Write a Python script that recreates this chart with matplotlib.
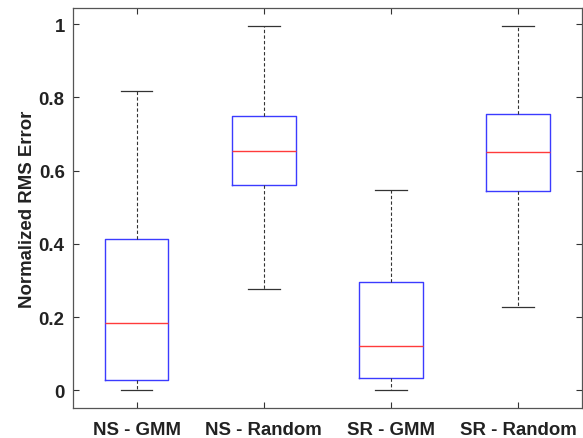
#!/usr/bin/env python3
# Boxplot: normalized RMS error per method (MATLAB-style look)

import matplotlib
matplotlib.use("Agg")
import matplotlib.pyplot as plt

# ----------------------------------------------------------
# DATA
# ----------------------------------------------------------

labels = ["NS - GMM", "NS - Random", "SR - GMM", "SR - Random"]
whislo = [0.0, 0.276, 0.0, 0.228]
q1 = [0.028, 0.560, 0.033, 0.544]
med = [0.183, 0.654, 0.121, 0.650]
q3 = [0.412, 0.749, 0.297, 0.754]
whishi = [0.817, 0.995, 0.547, 0.995]

yticks = [0, 0.2, 0.4, 0.6, 0.8, 1.0]
ytick_labels = ["0", "0.2", "0.4", "0.6", "0.8", "1"]

# ----------------------------------------------------------
# PLOT
# ----------------------------------------------------------

plt.rcParams["font.family"] = ["Liberation Sans", "DejaVu Sans"]
plt.rcParams["font.weight"] = "bold"

stats = [
    dict(label=l, whislo=a, q1=b, med=c, q3=d, whishi=e, fliers=[])
    for l, a, b, c, d, e in zip(labels, whislo, q1, med, q3, whishi)
]

fig = plt.figure(figsize=(5.83, 4.39), dpi=100)
ax = fig.add_axes([0.1252, 0.0677, 0.8726, 0.9125])

ax.bxp(
    stats,
    positions=range(1, len(labels) + 1),
    widths=0.5,
    showfliers=False,
    boxprops=dict(color="#3b3bff", linewidth=1.0),
    medianprops=dict(color="#ff3b3b", linewidth=1.0),
    whiskerprops=dict(color="#333333", linewidth=0.8, linestyle=(0, (3, 2))),
    capprops=dict(color="#333333", linewidth=0.9),
    capwidths=0.25,
)

ax.set_xlim(0.5, 4.5)
ax.set_ylim(-0.049, 1.045)
ax.set_yticks(yticks)
ax.set_yticklabels(ytick_labels)
ax.set_xticklabels(labels)

ax.tick_params(direction="in", top=True, right=True, length=4.5,
               width=0.8, color="#333333", labelsize=13.4, labelcolor="#222222")
ax.tick_params(axis="x", pad=9)
ax.tick_params(axis="y", pad=6)
for sp in ax.spines.values():
    sp.set_color("#555555")
    sp.set_linewidth(0.9)

ax.set_ylabel("Normalized RMS Error", fontsize=13.4, fontweight="bold",
              color="#222222", labelpad=2)

plt.savefig("out.png", dpi=100)
plt.close(fig)
